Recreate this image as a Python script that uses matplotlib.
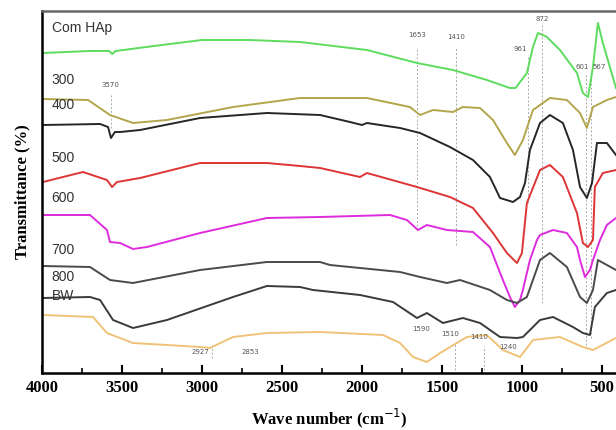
import matplotlib.pyplot as plt

# FTIR spectra (arbitrary transmittance units)
wn_hap = [4000, 3700, 3580, 3560, 3540, 3300, 3000, 2700, 2387, 1969, 1656, 1431, 1219, 1075,
          1040, 969, 931, 900, 870, 844, 762, 656, 619, 587, 556, 525, 494, 412]
t_hap = [320, 322, 322, 319, 322, 327, 333, 333, 331, 323, 310, 303, 293, 285,
         285, 300, 326, 340, 338, 336, 323, 300, 280, 276, 306, 350, 330, 285]

wn_300 = [3994, 3712, 3575, 3431, 3219, 2806, 2387, 1969, 1700, 1637, 1556, 1431, 1369, 1262,
          1181, 1094, 1044, 994, 931, 825, 719, 637, 594, 556, 469, 412]
t_300 = [274, 273, 258, 250, 253, 266, 275, 275, 266, 258, 263, 261, 266, 265,
         253, 230, 218, 233, 263, 275, 273, 260, 245, 266, 273, 276]

wn_400 = [3994, 3637, 3587, 3569, 3544, 3512, 3387, 3012, 2594, 2262, 2075, 2000, 1969, 1762,
          1637, 1450, 1306, 1200, 1137, 1056, 1012, 981, 950, 887, 825, 744, 681, 637, 594,
          562, 531, 469, 412]
t_400 = [248, 249, 246, 235, 241, 241, 243, 255, 260, 258, 251, 248, 250, 245,
         240, 226, 213, 196, 175, 171, 176, 190, 223, 250, 258, 250, 223, 186, 175,
         190, 230, 230, 218]

wn_500 = [3994, 3744, 3594, 3562, 3531, 3387, 3012, 2594, 2387, 2262, 2012, 1969, 1656, 1450,
          1306, 1181, 1094, 1031, 1000, 969, 887, 825, 744, 656, 619, 587, 556, 544, 494, 412]
t_500 = [191, 201, 193, 186, 191, 195, 210, 210, 207, 205, 196, 200, 186, 176,
         165, 140, 120, 110, 120, 170, 203, 208, 196, 160, 130, 126, 133, 186, 200, 203]

wn_600 = [3994, 3700, 3594, 3575, 3512, 3431, 3344, 3012, 2594, 2262, 1825, 1719, 1650, 1594,
          1469, 1306, 1200, 1119, 1075, 1044, 1012, 994, 950, 906, 887, 806, 719, 656, 637,
          606, 575, 556, 512, 469, 412]
t_600 = [158, 158, 143, 131, 130, 124, 126, 140, 155, 156, 158, 153, 143, 148,
         143, 141, 126, 93, 76, 66, 73, 83, 113, 133, 138, 143, 140, 126, 113,
         96, 103, 113, 133, 148, 155]

wn_700 = [3994, 3700, 3575, 3431, 3012, 2594, 2262, 2200, 2012, 1762, 1637, 1469, 1387, 1200,
          1094, 1031, 969, 887, 825, 719, 637, 594, 556, 525, 469, 412]
t_700 = [107, 106, 93, 90, 103, 111, 111, 108, 105, 101, 96, 90, 93, 83,
         73, 70, 76, 113, 120, 106, 76, 70, 83, 113, 108, 103]

wn_800 = [3994, 3700, 3637, 3556, 3431, 3219, 2806, 2594, 2387, 2306, 2012, 1806, 1656, 1594,
          1494, 1369, 1262, 1137, 1031, 994, 887, 806, 681, 619, 575, 544, 469, 412]
t_800 = [75, 76, 73, 53, 45, 53, 76, 87, 86, 83, 78, 71, 55, 60,
         50, 55, 50, 36, 35, 36, 53, 56, 46, 40, 38, 66, 80, 83]

wn_bw = [3994, 3681, 3594, 3431, 3219, 3012, 2950, 2806, 2594, 2262, 1869, 1762, 1681, 1594,
         1512, 1344, 1219, 1119, 1012, 931, 762, 619, 556, 412]
t_bw = [58, 56, 40, 30, 28, 26, 25, 36, 40, 41, 38, 30, 16, 11,
        20, 36, 38, 23, 16, 33, 36, 26, 23, 35]

series = [
    ("Com HAp", wn_hap, t_hap, "#5ddc5d", 328),
    ("300", wn_300, t_300, "#b3a54c", 276),
    ("400", wn_400, t_400, "#262626", 251),
    ("500", wn_500, t_500, "#dd3535", 198),
    ("600", wn_600, t_600, "#dd2bdd", 158),
    ("700", wn_700, t_700, "#4a4a4a", 106),
    ("800", wn_800, t_800, "#3a3a3a", 79),
    ("BW", wn_bw, t_bw, "#f0c277", 60),
]

# dashed marker lines: (wavenumber, bottom, top)
marks = [(3570, 245, 280), (1653, 143, 325), (1410, 128, 325), (961, 170, 318),
         (872, 70, 348), (601, 28, 300), (567, 35, 300),
         (2937, 15, 28), (1420, 3, 30), (1240, 3, 27)]
peak_labels = [("3570", 3570, 285), ("1653", 1653, 335), ("1410", 1410, 333), ("961", 1010, 321),
               ("872", 872, 351), ("601", 620, 303), ("567", 520, 303),
               ("2927", 3010, 18), ("2853", 2700, 18), ("1590", 1630, 41), ("1510", 1450, 36),
               ("1410", 1270, 33), ("1240", 1085, 23)]

fig = plt.figure(figsize=(6.16, 4.30), dpi=100)
ax = fig.add_axes([42 / 616, 57 / 430, 574 / 616, 362 / 430])

for wn, lo, hi in marks:
    ax.plot([wn, wn], [lo, hi], color="#aaaaaa", lw=0.7, ls=(0, (2, 2)))

for name, wn, t, c, ly in series:
    ax.plot(wn, t, color=c, lw=1.4)
    ax.text(3940, ly + 10, name, fontsize=10, color="#333333", family="Liberation Sans",
            va="bottom", ha="left")

for s, x, y in peak_labels:
    ax.text(x, y, s, fontsize=5, color="#555555", ha="center", va="bottom")

ax.set_xlim(4000, 412)
ax.set_ylim(0, 362)
ax.set_xticks([4000, 3500, 3000, 2500, 2000, 1500, 1000, 500])
ax.set_xticks(range(3750, 400, -500), minor=True)
ax.set_yticks([])
ax.tick_params(axis="x", direction="in", length=6, width=1.5, labelsize=12, pad=5)
ax.tick_params(axis="x", which="minor", direction="in", length=3.5, width=1.2)
for lab in ax.get_xticklabels():
    lab.set_family("Liberation Serif")
    lab.set_fontweight("bold")
ax.spines["right"].set_visible(False)
ax.spines["left"].set_linewidth(1.8)
ax.spines["bottom"].set_linewidth(1.8)
ax.spines["top"].set_linewidth(1.8)
ax.spines["top"].set_color("#666666")

ax.set_xlabel("Wave number (cm$^{-1}$)", fontsize=12, fontweight="bold",
              family="Liberation Serif", labelpad=8)
ax.set_ylabel("Transmittance (%)", fontsize=12, fontweight="bold",
              family="Liberation Serif", labelpad=8)

fig.savefig("out.png", dpi=100)
